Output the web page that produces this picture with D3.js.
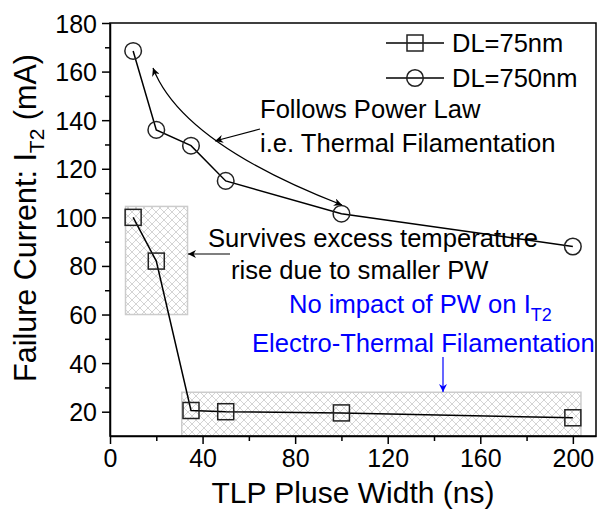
<!DOCTYPE html>
<html lang="en">
<head>
<meta charset="UTF-8">
<title>Failure current vs TLP pulse width</title>
<script src="https://d3js.org/d3.v7.min.js"></script>
<style>
    body { margin: 0; background: #fff; }
    text { font-family: "Liberation Sans", Arial, sans-serif; fill: #000; }
    .axis path, .axis line { stroke: #000; stroke-width: 1.5px; }
    .axis text { font-size: 25px; }
</style>
</head>
<body>
<svg width="597" height="510"></svg>
<script>
// data
var pulseWidth = [10, 20, 35, 50, 100, 200];           // ns
var it2_DL75   = [100, 82, 20.5, 20, 19.5, 17.5];      // mA
var it2_DL750  = [168.5, 136, 129.5, 115, 101.5, 88];  // mA
var seriesNames = ["DL=75nm", "DL=750nm"];
var xTicks = [0, 40, 80, 120, 160, 200];
var yTicks = [20, 40, 60, 80, 100, 120, 140, 160, 180];
// shaded regions [x0, x1, y0, y1]
var boxShort = [6.7, 33.5, 60, 104.5];
var boxLong  = [31, 203.5, 10, 28];

var svg = d3.select("svg");
var margin = {left: 110, right: 1, top: 23, bottom: 74};
var W = 597, H = 510;

var x = d3.scaleLinear().domain([0, 210]).range([margin.left, W - margin.right]);
var y = d3.scaleLinear().domain([10, 180]).range([H - margin.bottom, margin.top]);

var defs = svg.append("defs");
var pat = defs.append("pattern")
    .attr("id", "hatch")
    .attr("patternUnits", "userSpaceOnUse")
    .attr("width", 8).attr("height", 8);
pat.append("rect").attr("width", 8).attr("height", 8).attr("fill", "#fff");
pat.append("path").attr("d", "M0,0L8,8M8,0L0,8")
    .attr("stroke", "#cfcfcf").attr("stroke-width", 0.9);

function arrowMarker(id, col) {
    defs.append("marker")
        .attr("id", id)
        .attr("viewBox", "0 0 10 10")
        .attr("refX", 10).attr("refY", 5)
        .attr("markerWidth", 11).attr("markerHeight", 8)
        .attr("markerUnits", "userSpaceOnUse")
        .attr("orient", "auto-start-reverse")
        .append("path")
        .attr("d", "M0,0L10,5L0,10L3,5Z")
        .attr("fill", col);
}
arrowMarker("arr", "#000");
arrowMarker("arrBlue", "#0000ff");

// hatched boxes
[boxShort, boxLong].forEach(function (b) {
    svg.append("rect")
        .attr("x", x(b[0])).attr("y", y(b[3]))
        .attr("width", x(b[1]) - x(b[0]))
        .attr("height", y(b[2]) - y(b[3]))
        .attr("fill", "url(#hatch)")
        .attr("stroke", "#cccccc").attr("stroke-width", 1.5);
});

// frame
svg.append("rect")
    .attr("x", x(0)).attr("y", y(180))
    .attr("width", x(210) - x(0)).attr("height", y(10) - y(180))
    .attr("fill", "none").attr("stroke", "#000").attr("stroke-width", 1.5);

// axes
svg.append("g").attr("class", "axis")
    .attr("transform", "translate(0," + y(10) + ")")
    .call(d3.axisBottom(x).tickValues(xTicks).tickSize(8).tickPadding(5).tickSizeOuter(0));
svg.append("g").attr("class", "axis")
    .attr("transform", "translate(0," + y(10) + ")")
    .call(d3.axisBottom(x).tickValues(d3.range(20, 201, 40)).tickSize(5).tickFormat("").tickSizeOuter(0))
    .select(".domain").remove();
var yAxis = svg.append("g").attr("class", "axis")
    .attr("transform", "translate(" + x(0) + ",0)")
    .call(d3.axisLeft(y).tickValues(yTicks).tickSize(8).tickPadding(5).tickSizeOuter(0));
svg.append("g").attr("class", "axis")
    .attr("transform", "translate(" + x(0) + ",0)")
    .call(d3.axisLeft(y).tickValues(d3.range(30, 180, 20)).tickSize(5).tickFormat("").tickSizeOuter(0))
    .select(".domain").remove();
yAxis.selectAll("text").attr("dy", "0.36em");

// axis titles
svg.append("text")
    .attr("x", (x(0) + x(210)) / 2).attr("y", 503)
    .attr("text-anchor", "middle").style("font-size", "30px")
    .text("TLP Pluse Width (ns)");
var yl = svg.append("text")
    .attr("transform", "translate(36," + 218 + ") rotate(-90)")
    .attr("text-anchor", "middle").style("font-size", "30.5px");
yl.append("tspan").text("Failure Current: I");
yl.append("tspan").attr("dy", 8).style("font-size", "21px").text("T2");
yl.append("tspan").attr("dy", -8).text(" (mA)");

// series
var line = d3.line().x(function (d) { return x(d[0]); }).y(function (d) { return y(d[1]); });
var s75 = d3.zip(pulseWidth, it2_DL75);
var s750 = d3.zip(pulseWidth, it2_DL750);

[s75, s750].forEach(function (s) {
    svg.append("path").datum(s).attr("d", line)
        .attr("fill", "none").attr("stroke", "#000").attr("stroke-width", 1.5);
});
svg.append("g").selectAll("rect").data(s75).enter().append("rect")
    .attr("x", function (d) { return x(d[0]) - 8; })
    .attr("y", function (d) { return y(d[1]) - 8; })
    .attr("width", 16).attr("height", 16)
    .attr("fill", "none").attr("stroke", "#222").attr("stroke-width", 1.5);
svg.append("g").selectAll("circle").data(s750).enter().append("circle")
    .attr("cx", function (d) { return x(d[0]); })
    .attr("cy", function (d) { return y(d[1]); })
    .attr("r", 8.3)
    .attr("fill", "none").attr("stroke", "#222").attr("stroke-width", 1.5);

// legend
var lg = svg.append("g");
[43, 78].forEach(function (ly, i) {
    lg.append("line").attr("x1", 386).attr("x2", 444).attr("y1", ly).attr("y2", ly)
        .attr("stroke", "#000").attr("stroke-width", 1.5);
    if (i === 0) {
        lg.append("rect").attr("x", 407).attr("y", ly - 8).attr("width", 16).attr("height", 16)
            .attr("fill", "none").attr("stroke", "#222").attr("stroke-width", 1.5);
    } else {
        lg.append("circle").attr("cx", 415).attr("cy", ly).attr("r", 8.3)
            .attr("fill", "none").attr("stroke", "#222").attr("stroke-width", 1.5);
    }
    lg.append("text").attr("x", 452).attr("y", ly + 9).style("font-size", "25.5px")
        .text(seriesNames[i]);
});

// annotations
function note(tx, ty, str, col) {
    return svg.append("text").attr("x", tx).attr("y", ty)
        .style("font-size", "25.6px").style("fill", col || "#000").text(str);
}
note(260, 118, "Follows Power Law");
note(260, 152, "i.e. Thermal Filamentation");
note(208, 247, "Survives excess temperature");
note(231, 279, "rise due to smaller PW");
var ni = note(289, 313, "No impact of PW on I", "#0000ff");
ni.append("tspan").attr("dy", 8).style("font-size", "18px").text("T2");
note(252, 352, "Electro-Thermal Filamentation", "#0000ff");

svg.append("path")
    .attr("d", "M153,68Q182,143 342,205")
    .attr("fill", "none").attr("stroke", "#000").attr("stroke-width", 1.2)
    .attr("marker-start", "url(#arr)").attr("marker-end", "url(#arr)");
svg.append("line").attr("x1", 260).attr("y1", 129).attr("x2", 215).attr("y2", 141)
    .attr("stroke", "#000").attr("stroke-width", 1.2).attr("marker-end", "url(#arr)");
svg.append("line").attr("x1", 230).attr("y1", 254).attr("x2", 188).attr("y2", 254)
    .attr("stroke", "#000").attr("stroke-width", 1.2).attr("marker-end", "url(#arr)");
svg.append("line").attr("x1", 443).attr("y1", 357).attr("x2", 443).attr("y2", 392)
    .attr("stroke", "#0000ff").attr("stroke-width", 1.2).attr("marker-end", "url(#arrBlue)");
</script>
</body>
</html>
